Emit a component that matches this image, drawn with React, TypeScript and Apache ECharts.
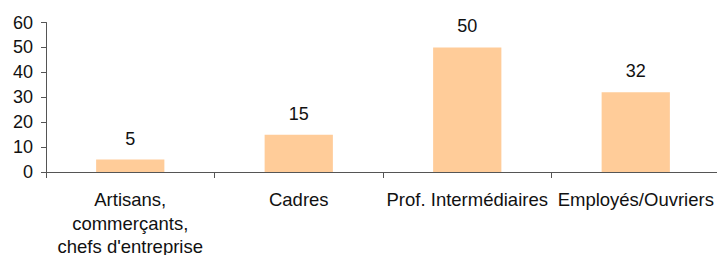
import React, { useEffect, useRef } from "react";
import * as echarts from "echarts";

const categories = [
  "Artisans,\ncommerçants,\nchefs d'entreprise",
  "Cadres",
  "Prof. Intermédiaires",
  "Employés/Ouvriers",
];
const values = [5, 15, 50, 32];
const yMin = 0;
const yMax = 60;
const yInterval = 10;

export default function App() {
  const ref = useRef<HTMLDivElement>(null);
  useEffect(() => {
    if (!ref.current) return;
    const chart = echarts.init(ref.current, undefined, { renderer: "svg" });
    const font = "Arial, 'Liberation Sans', sans-serif";
    chart.setOption({
      animation: false,
      grid: {
        left: 46,
        top: 22.5,
        width: 674,
        height: 149.5,
        containLabel: false,
        outerBoundsMode: "none",
      },
      xAxis: {
        type: "category",
        data: categories,
        axisLine: { lineStyle: { color: "#555555", width: 1 } },
        axisTick: { show: true, length: 6, lineStyle: { color: "#555555" } },
        axisLabel: {
          color: "#111111",
          fontSize: 18.5,
          fontFamily: font,
          margin: 16,
          lineHeight: 23.5,
          interval: 0,
        },
      },
      yAxis: {
        type: "value",
        min: yMin,
        max: yMax,
        interval: yInterval,
        axisLine: { show: true, lineStyle: { color: "#555555", width: 1 } },
        axisTick: { show: true, length: 5, lineStyle: { color: "#555555" } },
        splitLine: { show: false },
        axisLabel: {
          color: "#111111",
          fontSize: 18,
          fontFamily: font,
          margin: 13,
        },
      },
      series: [
        {
          type: "bar",
          data: values,
          barWidth: "40.5%",
          itemStyle: { color: "#FFCC99" },
          label: {
            show: true,
            position: "top",
            distance: 12,
            color: "#111111",
            fontSize: 18,
            fontFamily: font,
          },
        },
      ],
    });
    return () => chart.dispose();
  }, []);
  return (
    <div
      ref={ref}
      style={{ position: "fixed", left: 0, top: 0, width: 717, height: 255, background: "#ffffff" }}
    />
  );
}
